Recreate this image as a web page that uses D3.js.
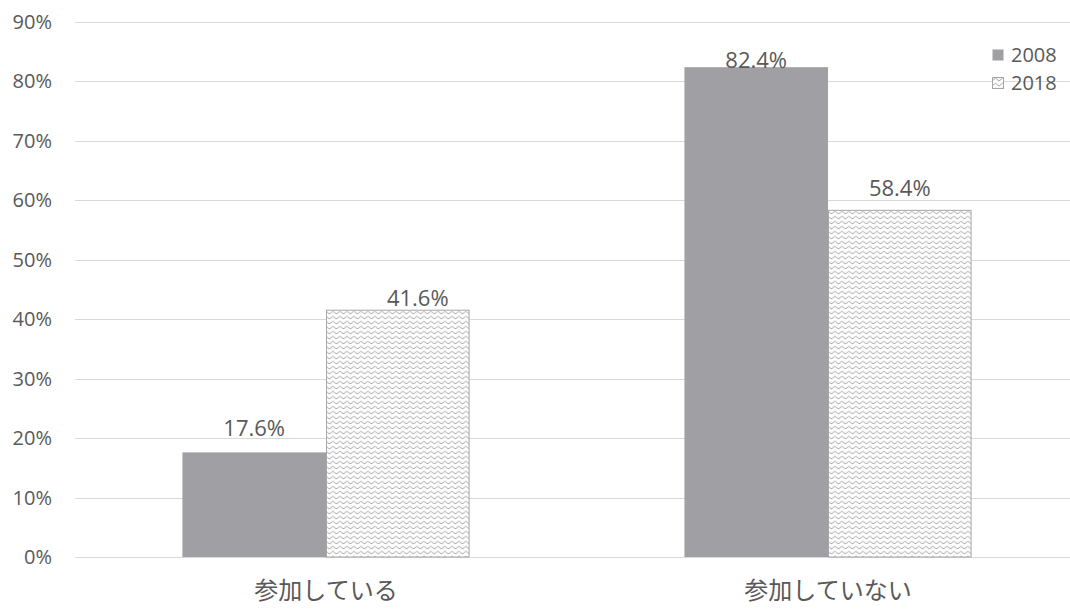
<!DOCTYPE html>
<html>
<head>
<meta charset="utf-8">
<script src="https://cdn.jsdelivr.net/npm/d3@7"></script>
<style>
  body { margin: 0; background: #fff; }
  text { font-family: "Open Sans", "Noto Sans CJK JP", sans-serif; fill: #595959; }
</style>
</head>
<body>
<div class="d3"></div>
<script>
// chart data
const categories = ["参加している", "参加していない"];
const seriesNames = ["2008", "2018"];
const values2008 = [17.6, 82.4];
const values2018 = [41.6, 58.4];
const yTicks = [0, 10, 20, 30, 40, 50, 60, 70, 80, 90];

// hand nudges of the value labels, [dx, dy] per category per series (as placed in the original)
const labelNudge = [[[0, -16], [20, -4]], [[0, 1], [0, -14]]];

const width = 1070;
const height = 609;
const plot = {left: 75, right: 1079, top: 22, bottom: 557};

const svg = d3.select('div.d3')
    .append('svg')
    .attr('width', width)
    .attr('height', height);

// zigzag fill for the 2018 bars
const defs = svg.append('defs');
const pat = defs.append('pattern')
    .attr('id', 'zigzag')
    .attr('patternUnits', 'userSpaceOnUse')
    .attr('width', 7)
    .attr('height', 5);
pat.append('rect').attr('width', 7).attr('height', 5).attr('fill', '#fff');
pat.append('path')
    .attr('d', 'M0,4 L3.5,1.2 L7,4')
    .attr('fill', 'none')
    .attr('stroke', '#a8a8a8')
    .attr('stroke-width', 1);

const yScale = d3.scaleLinear().domain([0, 90]).range([plot.bottom, plot.top]);

const x0 = d3.scaleBand()
    .domain(categories)
    .range([plot.left, plot.right])
    .paddingInner(0.428)
    .paddingOuter(0.214);

const x1 = d3.scaleBand()
    .domain(seriesNames)
    .range([0, x0.bandwidth()]);

// gridlines
svg.append('g')
    .selectAll('line')
    .data(yTicks)
    .enter()
    .append('line')
    .attr('x1', plot.left)
    .attr('x2', width)
    .attr('y1', d => Math.round(yScale(d)) + 0.5)
    .attr('y2', d => Math.round(yScale(d)) + 0.5)
    .attr('stroke', '#d9d9d9')
    .attr('stroke-width', 1);

// y axis labels
svg.append('g')
    .selectAll('text')
    .data(yTicks)
    .enter()
    .append('text')
    .attr('x', 52)
    .attr('y', d => yScale(d) + 7)
    .attr('text-anchor', 'end')
    .attr('font-size', 20)
    .text(d => d + '%');

const rows = categories.map((c, i) => ({cat: c, i: i, vals: [values2008[i], values2018[i]]}));

const groups = svg.append('g')
    .selectAll('g')
    .data(rows)
    .enter()
    .append('g')
    .attr('transform', d => 'translate(' + x0(d.cat) + ',0)');

const barData = d => d.vals.map((v, j) => ({key: seriesNames[j], v: v, nudge: labelNudge[d.i][j]}));

groups.selectAll('rect')
    .data(barData)
    .enter()
    .append('rect')
    .attr('x', d => x1(d.key) + (d.key === '2018' ? 0.5 : 0))
    .attr('y', d => yScale(d.v) + (d.key === '2018' ? 0.5 : 0))
    .attr('width', d => x1.bandwidth() - (d.key === '2018' ? 1 : 0))
    .attr('height', d => yScale(0) - yScale(d.v) - (d.key === '2018' ? 0.5 : 0))
    .attr('fill', d => d.key === '2008' ? '#a0a0a4' : 'url(#zigzag)')
    .attr('stroke', d => d.key === '2008' ? 'none' : '#a6a6a6')
    .attr('stroke-width', 1);

groups.selectAll('text')
    .data(barData)
    .enter()
    .append('text')
    .attr('x', d => x1(d.key) + x1.bandwidth() / 2 + d.nudge[0])
    .attr('y', d => yScale(d.v) + d.nudge[1])
    .attr('text-anchor', 'middle')
    .attr('font-size', 22)
    .text(d => d.v.toFixed(1) + '%');

// category labels
svg.append('g')
    .selectAll('text')
    .data(categories)
    .enter()
    .append('text')
    .attr('x', d => x0(d) + x0.bandwidth() / 2)
    .attr('y', 599)
    .attr('text-anchor', 'middle')
    .attr('font-size', 24)
    .style('font-family', '"Noto Sans CJK JP", sans-serif')
    .text(d => d);

// legend
const legend = svg.append('g')
    .selectAll('g')
    .data(seriesNames)
    .enter()
    .append('g')
    .attr('transform', (d, i) => 'translate(992,' + (49 + i * 28) + ')');

legend.append('rect')
    .attr('x', 0.5)
    .attr('y', 0.5)
    .attr('width', 11)
    .attr('height', 11)
    .attr('fill', d => d === '2008' ? '#a0a0a4' : 'url(#zigzag)')
    .attr('stroke', d => d === '2008' ? 'none' : '#a6a6a6');

legend.append('text')
    .attr('x', 19)
    .attr('y', 13)
    .attr('font-size', 20)
    .text(d => d);
</script>
</body>
</html>
